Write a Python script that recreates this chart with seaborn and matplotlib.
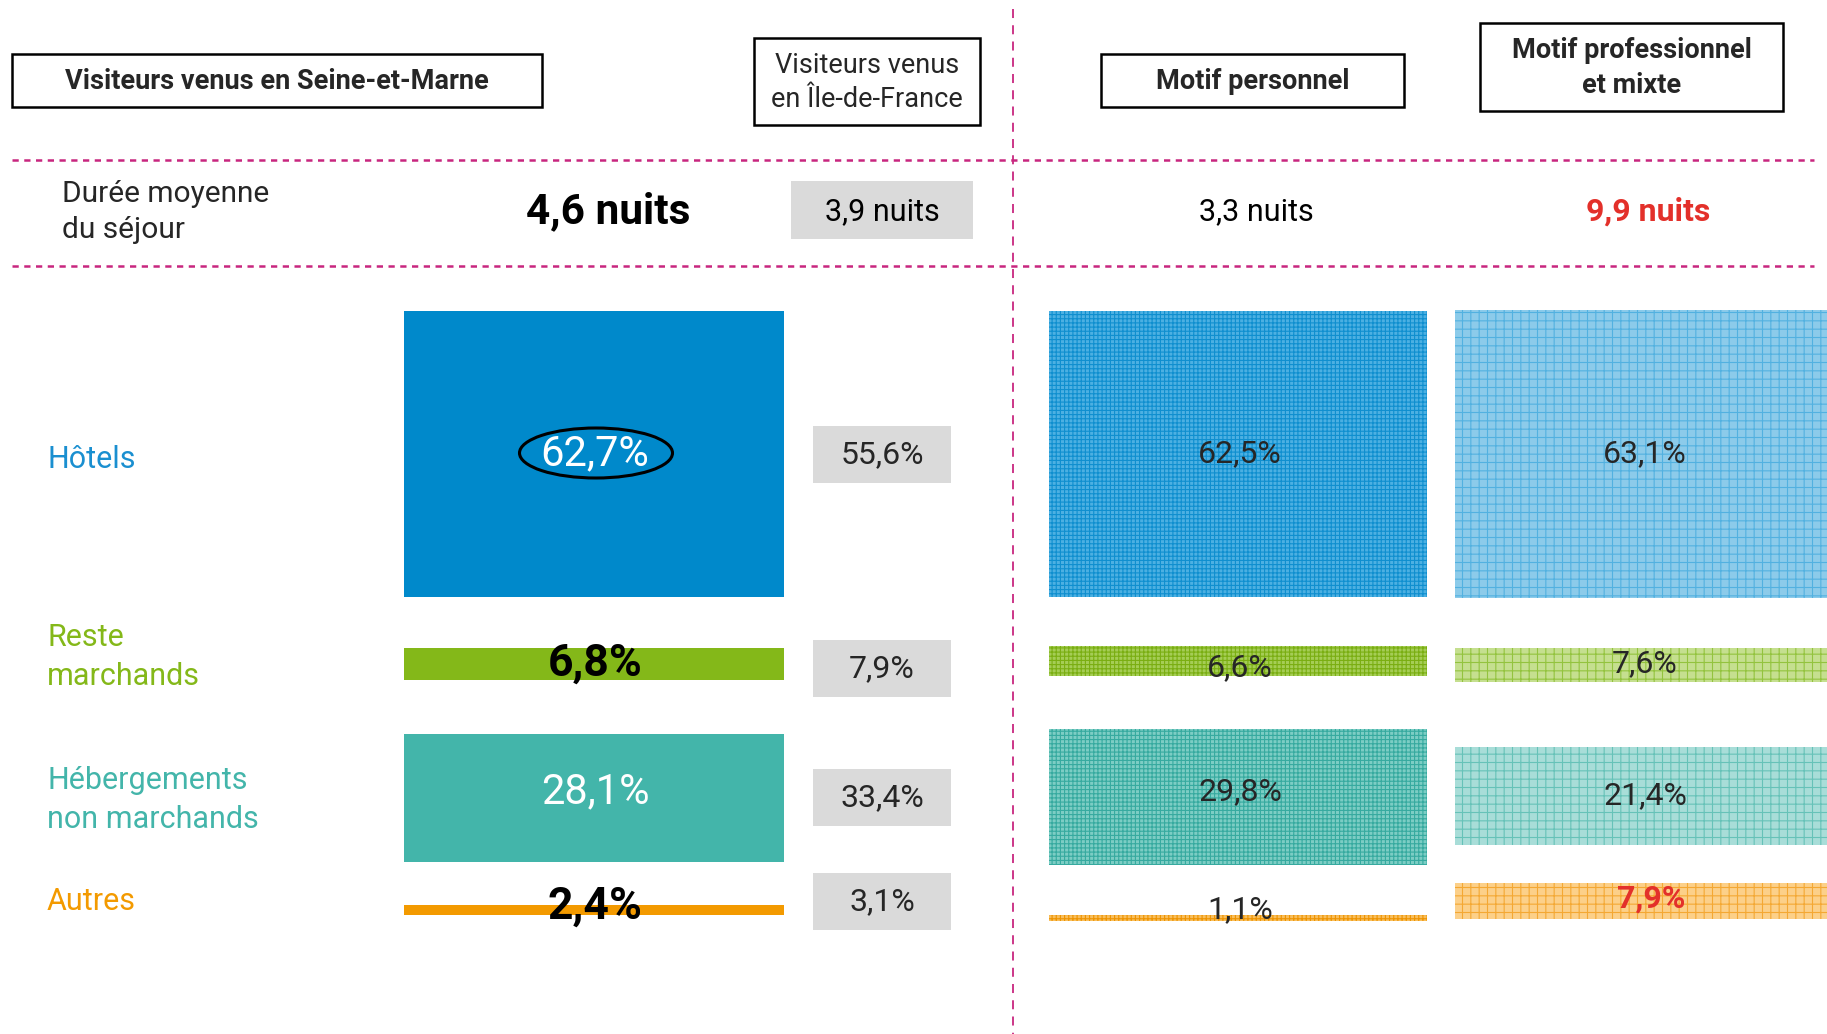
import numpy as np
import matplotlib
matplotlib.use('Agg')
import matplotlib.pyplot as plt
from matplotlib.patches import Rectangle, Ellipse
import seaborn as sns

categories = ['Hôtels', 'Reste\nmarchands', 'Hébergements\nnon marchands', 'Autres']
seine_et_marne = [62.7, 6.8, 28.1, 2.4]
ile_de_france = [55.6, 7.9, 33.4, 3.1]
motif_personnel = [62.5, 6.6, 29.8, 1.1]
motif_pro_mixte = [63.1, 7.6, 21.4, 7.9]
durees = [4.6, 3.9, 3.3, 9.9]
headers = ['Visiteurs venus en Seine-et-Marne', 'Visiteurs venus\nen Île-de-France',
           'Motif personnel', 'Motif professionnel\net mixte']
duree_label = 'Durée moyenne\ndu séjour'

sns.set_theme(style='white')
plt.rcParams['font.family'] = ['Roboto', 'DejaVu Sans']
plt.rcParams['hatch.linewidth'] = 0.8

cat_colors = sns.color_palette(['#0089cb', '#84b819', '#43b5aa', '#f39a00'])
light_face = ['#8ccbea', '#c5df8f', '#a8ddd8', '#fcd089']
light_hatch = ['#52b1e0', '#93c33e', '#66c2b8', '#f4a833']
mid_face = ['#4cb0e2', '#a5cd55', '#7ccdc4', '#f8bf5e']
mid_hatch = ['#0f8fcf', '#7aae12', '#36aa9f', '#ee9300']
magenta = '#c8267f'
red = '#e3302a'


def fmt(v):
    return f'{v:.1f}'.replace('.', ',')


W, H = 1827, 1034
fig = plt.figure(figsize=(W / 100, H / 100), dpi=100)
ax = fig.add_axes([0, 0, 1, 1])
ax.set_xlim(0, W)
ax.set_ylim(H, 0)
ax.axis('off')

scale = 4.57  # px per percentage point

# separators
ax.plot([1013, 1013], [9, H], color=magenta, lw=1.3, dashes=(5, 4))
for y in [160, 266]:
    ax.plot([12, 1814], [y, y], color=magenta, lw=1.8, dashes=(2.5, 2.2))

# header boxes
boxes = [(12, 54, 530, 53), (754, 38, 226, 87), (1101, 54, 303, 53), (1480, 23, 303, 88)]
for (x0, y0, w, h), txt in zip(boxes, headers):
    ax.add_patch(Rectangle((x0, y0), w, h, fill=False, ec='black', lw=1.8))
    ax.text(x0 + w / 2, y0 + h / 2 + 1, txt, ha='center', va='center', fontsize=19.5,
            fontweight='bold' if txt != headers[1] else 'normal', linespacing=1.35)

# average stay row
ax.text(62, 212, duree_label, ha='left', va='center', fontsize=21.5, linespacing=1.4)
ax.add_patch(Rectangle((791, 181), 182, 58, color='#dadada', lw=0))
dur_x = [608, 882, 1256, 1648]
dur_style = [dict(fontsize=30.5, fontweight='bold', color='black'),
             dict(fontsize=22, color='black'),
             dict(fontsize=22, color='black'),
             dict(fontsize=23, fontweight='bold', color=red)]
for x, d, st in zip(dur_x, durees, dur_style):
    ax.text(x, 212, f'{fmt(d)} nuits', ha='center', va='center', **st)

# row labels
label_y = [460, 657, 800, 902]
label_colors = ['#1a8fd0', '#84b819', '#43b5aa', '#f39a00']
for y, lab, c in zip(label_y, categories, label_colors):
    ax.text(47, y, lab, ha='left', va='center', fontsize=22, color=c, linespacing=1.4)

# column 1: Seine-et-Marne
y1 = np.array([454, 664, 798, 910])
h1 = np.array(seine_et_marne) * scale
ax.bar([594] * 4, h1, width=380, bottom=y1 - h1 / 2, color=cat_colors, lw=0)
t1_y = [454, 664, 792, 907]
t1_style = [dict(color='white', fontsize=30), dict(color='black', fontsize=32, fontweight='bold'),
            dict(color='white', fontsize=30), dict(color='black', fontsize=32, fontweight='bold')]
for y, v, st in zip(t1_y, seine_et_marne, t1_style):
    ax.text(595, y, fmt(v) + '%', ha='center', va='center', **st)
ax.add_patch(Ellipse((596, 453), 153, 50, fill=False, ec='black', lw=2.2))

# column 2: Île-de-France (grey label boxes)
y2 = [454, 668, 797, 901]
for y, v in zip(y2, ile_de_france):
    ax.add_patch(Rectangle((813, y - 28.5), 138, 57, color='#dadada', lw=0))
    ax.text(882, y + 1, fmt(v) + '%', ha='center', va='center', fontsize=23)

# column 3: motif personnel (dense grid pattern)
y3 = np.array([454, 661, 797, 918])
h3 = np.array(motif_personnel) * scale
for y, h, fc, hc in zip(y3, h3, mid_face, mid_hatch):
    ax.bar(1238, h, width=378, bottom=y - h / 2, color=fc, edgecolor=hc, lw=0, hatch='++++')
t3_y = [454, 668, 792, 910]
for y, v in zip(t3_y, motif_personnel):
    ax.text(1240, y, fmt(v) + '%', ha='center', va='center', fontsize=23)

# column 4: motif professionnel et mixte (coarse grid pattern)
y4 = np.array([454, 665, 796, 901])
h4 = np.array(motif_pro_mixte) * scale
for y, h, fc, hc in zip(y4, h4, light_face, light_hatch):
    ax.bar(1645, h, width=380, bottom=y - h / 2, color=fc, edgecolor=hc, lw=0, hatch='++')
t4_y = [454, 664, 796, 899]
for i, (y, v) in enumerate(zip(t4_y, motif_pro_mixte)):
    if i == 3:
        ax.text(1651, y, fmt(v) + '%', ha='center', va='center', fontsize=23,
                fontweight='bold', color=red)
    else:
        ax.text(1645, y, fmt(v) + '%', ha='center', va='center', fontsize=23)

fig.savefig('out.png', dpi=100)
